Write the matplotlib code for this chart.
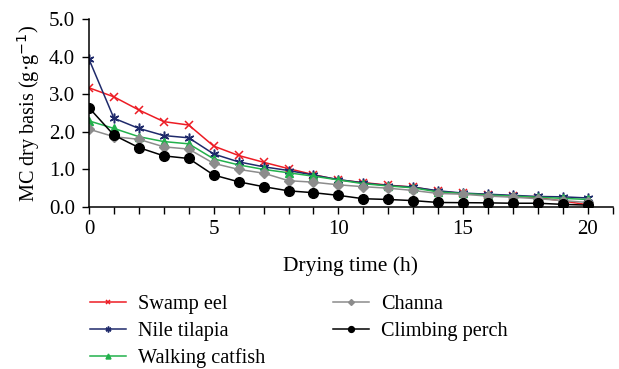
import numpy as np
import matplotlib.pyplot as plt

plt.rcParams['font.family'] = ['Liberation Serif', 'DejaVu Serif']

# время сушки, ч
hours = np.arange(0, 21)

# MC dry basis по видам рыбы
swamp_eel = [3.17, 2.93, 2.58, 2.27, 2.18, 1.62, 1.37, 1.19, 1.02, 0.86, 0.72,
             0.65, 0.58, 0.53, 0.42, 0.36, 0.33, 0.29, 0.25, 0.16, 0.06]
nile_tilapia = [3.93, 2.36, 2.09, 1.90, 1.84, 1.41, 1.20, 1.07, 0.97, 0.85, 0.73,
                0.64, 0.57, 0.53, 0.43, 0.37, 0.34, 0.31, 0.28, 0.27, 0.24]
walking_catfish = [2.29, 2.09, 1.87, 1.74, 1.68, 1.28, 1.12, 1.00, 0.91, 0.82, 0.72,
                   0.62, 0.56, 0.51, 0.40, 0.36, 0.32, 0.29, 0.26, 0.23, 0.20]
channa = [2.07, 1.87, 1.80, 1.60, 1.54, 1.16, 1.00, 0.90, 0.70, 0.66, 0.59,
          0.54, 0.50, 0.44, 0.36, 0.34, 0.29, 0.26, 0.22, 0.17, 0.12]
climbing_perch = [2.64, 1.91, 1.58, 1.36, 1.29, 0.85, 0.67, 0.54, 0.43, 0.38, 0.31,
                  0.22, 0.20, 0.17, 0.12, 0.115, 0.11, 0.10, 0.10, 0.07, 0.05]

fig = plt.figure(figsize=(6.19, 3.69), dpi=100)
ax = fig.add_axes([89 / 619, 1 - 207 / 369, (612.7 - 89) / 619, (207 - 19) / 369])

ax.plot(hours, swamp_eel, color='#ed1c24', marker='x', ms=6, mew=1.1, lw=1.1, label='Swamp eel')
ax.plot(hours, nile_tilapia, color='#1f2a6b', marker=(6, 2, 0), ms=7, mew=1.1, lw=1.1, label='Nile tilapia')
ax.plot(hours, walking_catfish, color='#22b14c', marker='^', ms=6, lw=1.1, label='Walking catfish')
ax.plot(hours, channa, color='#8c8c8c', marker='D', ms=5, lw=1.1, label='Channa')
ax.plot(hours, climbing_perch, color='black', marker='o', ms=7, lw=1.1, label='Climbing perch')

ax.set_xlim(0, 21)
ax.set_ylim(0, 5)
ax.set_xticks(np.arange(0, 22, 1))
ax.set_xticklabels([str(t) if t % 5 == 0 else '' for t in range(0, 22)])
ax.set_yticks(np.arange(0, 5.1, 1.0))
ax.set_yticklabels([f'{v:.1f}' for v in np.arange(0, 5.1, 1.0)])
ax.tick_params(labelsize=15, direction='out', length=5, width=1)
ax.tick_params(axis='x', pad=4)
ax.tick_params(axis='y', pad=5)
ax.spines['top'].set_visible(False)
ax.spines['right'].set_visible(False)
ax.spines['left'].set_linewidth(1.1)
ax.spines['bottom'].set_linewidth(1.1)

ax.set_xlabel('Drying time (h)', fontsize=15.5, labelpad=13)
ax.set_ylabel('MC dry basis (g$\\cdot$g$^{-1}$)', fontsize=14.6, labelpad=5)

h, l = ax.get_legend_handles_labels()
leg = fig.legend(h, l, ncol=2, frameon=False, fontsize=14.6, loc='upper left',
                 bbox_to_anchor=(72 / 619, 1 - 277 / 369), markerscale=0.6,
                 handlelength=1.75, columnspacing=3.35, labelspacing=0.36, handletextpad=0.6)

plt.savefig('out.png', dpi=100)
